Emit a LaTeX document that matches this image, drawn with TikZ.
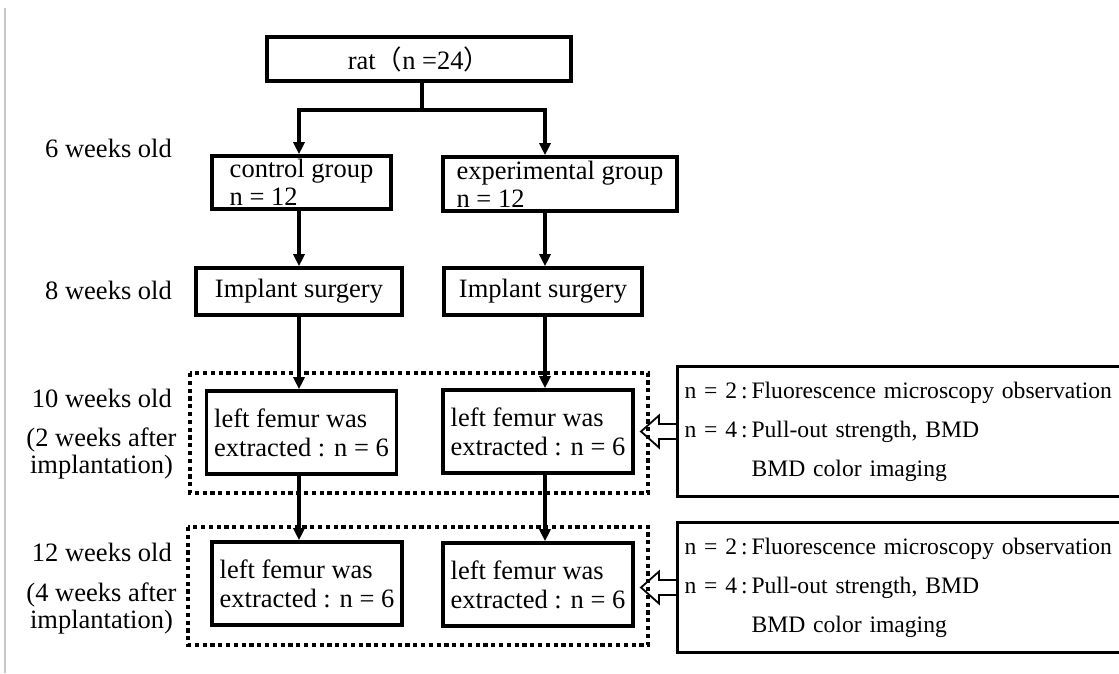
\documentclass[tikz,border=0pt]{standalone}
\usepackage{fontspec}
\setmainfont{Liberation Serif}
\newfontfamily\cjkfont{Noto Sans CJK JP}
\usetikzlibrary{arrows.meta}

\begin{document}
\begin{tikzpicture}[
  x=1pt, y=-1pt,
  every node/.style={font=\fontsize{26.5}{28}\selectfont, inner sep=0pt},
  sbox/.style={rectangle, draw=black, line width=3.6pt, align=left},
  femur/.style={sbox, minimum width=190pt, minimum height=83pt, font=\fontsize{26.5}{29}\selectfont},
  infobox/.style={rectangle, draw=black, line width=3pt, align=left, anchor=north west,
    text width=440pt, inner xsep=7pt, minimum height=130pt, font=\fontsize{23.6}{39}\selectfont},
  dotbox/.style={draw=black, line width=4.5pt, dash pattern=on 4.2pt off 3.6pt},
  arrow/.style={line width=3.4pt, -{Triangle[length=12pt,width=11pt]}},
  hollow/.style={line width=1.8pt},
  age/.style={anchor=east},
  after/.style={align=center, font=\fontsize{26.5}{27}\selectfont}
]
  \useasboundingbox (0,0) rectangle (1119,673);
  \clip (0,0) rectangle (1119,673);

  % Borde gris a la izquierda
  \draw[black!22, line width=1.5pt] (5,8) -- (5,673);

  % Columnas de las flechas
  \coordinate (colL) at (299,0);
  \coordinate (colR) at (545,0);
  \coordinate (split) at (422,110);

  % Cajas principales
  \node[sbox, align=center, minimum width=304pt, minimum height=44pt] (rat) at (419,59) {rat{\cjkfont （}n =24{\cjkfont ）}};
  \node[sbox, minimum width=179pt, minimum height=53pt] (ctrl) at (301.5,182.5) {control group\\n = 12};
  \node[sbox, minimum width=234pt, minimum height=54pt] (expt) at (560,184) {experimental group\\n = 12};
  \node[sbox, minimum width=206pt, minimum height=47pt] (impL) at (299,291.5) {Implant surgery};
  \node[sbox, minimum width=198pt, minimum height=47pt] (impR) at (543,291.5) {Implant surgery};

  % Grupos punteados
  \draw[dotbox] (190,373) rectangle (648,493);
  \draw[dotbox] (188,527) rectangle (648,645);

  \node[femur] (fem10L) at (301.5,432.5) {left femur was\\extracted : n = 6};
  \node[femur] (fem10R) at (538,431.5) {left femur was\\extracted : n = 6};
  \node[femur] (fem12L) at (307,583.5) {left femur was\\extracted : n = 6};
  \node[femur] (fem12R) at (538,584.5) {left femur was\\extracted : n = 6};

  % Etiquetas de edad
  \node[age] (age6) at (172,148) {6 weeks old};
  \node[age] (age8) at (172,290) {8 weeks old};
  \node[age] (age10) at (172,398) {10 weeks old};
  \node[after] (aft2) at (101.5,453.5) {(2 weeks after\\implantation)};
  \node[age] (age12) at (172,552) {12 weeks old};
  \node[after] (aft4) at (101.5,608.5) {(4 weeks after\\implantation)};

  % Cajas de analisis
  \node[infobox] (info10) at (676,365) {n = 2\,:\,Fluorescence microscopy observation\\n = 4\,:\,Pull-out strength, BMD\\\phantom{n = 4\,:\,}BMD color imaging};
  \node[infobox] (info12) at (676,521) {n = 2\,:\,Fluorescence microscopy observation\\n = 4\,:\,Pull-out strength, BMD\\\phantom{n = 4\,:\,}BMD color imaging};

  % Flechas
  \draw[line width=3.4pt] (rat.south -| split) -- (split);
  \draw[arrow] (split) -| (ctrl.north -| colL);
  \draw[arrow] (split) -| (expt.north -| colR);
  \draw[arrow] (ctrl.south -| colL) -- (impL.north -| colL);
  \draw[arrow] (expt.south -| colR) -- (impR.north -| colR);
  \draw[arrow] (impL.south -| colL) -- (fem10L.north -| colL);
  \draw[arrow] (impR.south -| colR) -- (fem10R.north -| colR);
  \draw[arrow] (fem10L.south -| colL) -- (fem12L.north -| colL);
  \draw[arrow] (fem10R.south -| colR) -- (fem12R.north -| colR);

  % Flechas huecas
  \draw[hollow] ([yshift=7.5pt]info10.west) -- ++(-17,0) -- ++(0,-8.5) -- ++(-18,16) -- ++(18,16) -- ++(0,-8.5) -- ++(17,0);
  \draw[hollow] ([yshift=7.5pt]info12.west) -- ++(-17,0) -- ++(0,-8.5) -- ++(-18,16) -- ++(18,16) -- ++(0,-8.5) -- ++(17,0);
\end{tikzpicture}
\end{document}
